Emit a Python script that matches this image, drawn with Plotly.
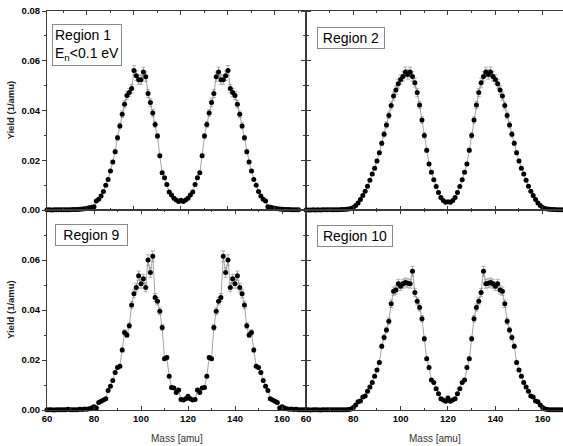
import plotly.graph_objects as go

mass = list(range(60, 171))

region1 = [
    0.0000, 0.0001, 0.0000, 0.0001, 0.0001, 0.0000, 0.0001, 0.0001, 0.0001, 0.0001,
    0.0001, 0.0001, 0.0001, 0.0001, 0.0002, 0.0002, 0.0002, 0.0003, 0.0004, 0.0005,
    0.0007, 0.0009, 0.0011, 0.0013, 0.0036, 0.0043, 0.0056, 0.0074, 0.0100, 0.0123,
    0.0157, 0.0193, 0.0234, 0.0290, 0.0338, 0.0385, 0.0425, 0.0460, 0.0472, 0.0488,
    0.0561, 0.0540, 0.0524, 0.0524, 0.0555, 0.0536, 0.0468, 0.0432, 0.0390, 0.0344,
    0.0297, 0.0218, 0.0150, 0.0130, 0.0103, 0.0072, 0.0060, 0.0047, 0.0040, 0.0034,
    0.0039, 0.0034, 0.0040, 0.0047, 0.0060, 0.0072, 0.0103, 0.0130, 0.0150, 0.0218,
    0.0297, 0.0344, 0.0390, 0.0432, 0.0468, 0.0536, 0.0555, 0.0524, 0.0524, 0.0540,
    0.0561, 0.0488, 0.0472, 0.0460, 0.0425, 0.0385, 0.0338, 0.0290, 0.0234, 0.0193,
    0.0157, 0.0123, 0.0100, 0.0074, 0.0056, 0.0043, 0.0036, 0.0013, 0.0011, 0.0009,
    0.0007, 0.0005, 0.0004, 0.0003, 0.0002, 0.0002, 0.0002, 0.0001, 0.0001, 0.0001,
    0.0001,
]

region2 = [
    0.0000, 0.0000, 0.0000, 0.0001, 0.0000, 0.0001, 0.0000, 0.0001, 0.0001, 0.0001,
    0.0001, 0.0001, 0.0001, 0.0001, 0.0001, 0.0002, 0.0002, 0.0003, 0.0004, 0.0006,
    0.0010, 0.0018, 0.0028, 0.0042, 0.0058, 0.0075, 0.0095, 0.0120, 0.0145, 0.0168,
    0.0197, 0.0230, 0.0268, 0.0305, 0.0342, 0.0380, 0.0420, 0.0458, 0.0482, 0.0508,
    0.0525, 0.0537, 0.0555, 0.0545, 0.0555, 0.0537, 0.0512, 0.0472, 0.0422, 0.0362,
    0.0300, 0.0240, 0.0185, 0.0152, 0.0122, 0.0094, 0.0070, 0.0050, 0.0038, 0.0031,
    0.0033, 0.0031, 0.0038, 0.0050, 0.0070, 0.0094, 0.0122, 0.0152, 0.0185, 0.0240,
    0.0300, 0.0362, 0.0422, 0.0472, 0.0512, 0.0537, 0.0555, 0.0545, 0.0555, 0.0537,
    0.0525, 0.0508, 0.0482, 0.0458, 0.0420, 0.0380, 0.0342, 0.0305, 0.0268, 0.0230,
    0.0197, 0.0168, 0.0145, 0.0120, 0.0095, 0.0075, 0.0058, 0.0042, 0.0028, 0.0018,
    0.0010, 0.0006, 0.0004, 0.0003, 0.0002, 0.0002, 0.0001, 0.0001, 0.0001, 0.0001,
    0.0001,
]

region9 = [
    0.0001, 0.0001, 0.0001, 0.0000, 0.0001, 0.0001, 0.0001, 0.0001, 0.0001, 0.0003,
    0.0001, 0.0001, 0.0001, 0.0001, 0.0003, 0.0002, 0.0004, 0.0003, 0.0005, 0.0008,
    0.0013, 0.0008, 0.0030, 0.0035, 0.0040, 0.0045, 0.0078, 0.0095, 0.0118, 0.0150,
    0.0170, 0.0175, 0.0240, 0.0310, 0.0300, 0.0337, 0.0420, 0.0465, 0.0490, 0.0537,
    0.0505, 0.0525, 0.0490, 0.0600, 0.0550, 0.0615, 0.0450, 0.0435, 0.0395, 0.0330,
    0.0205, 0.0210, 0.0135, 0.0090, 0.0088, 0.0070, 0.0080, 0.0042, 0.0040, 0.0045,
    0.0055, 0.0045, 0.0040, 0.0042, 0.0080, 0.0070, 0.0088, 0.0090, 0.0135, 0.0210,
    0.0205, 0.0330, 0.0395, 0.0435, 0.0450, 0.0615, 0.0550, 0.0600, 0.0490, 0.0525,
    0.0505, 0.0537, 0.0490, 0.0465, 0.0420, 0.0337, 0.0300, 0.0310, 0.0240, 0.0175,
    0.0170, 0.0150, 0.0118, 0.0095, 0.0078, 0.0045, 0.0040, 0.0035, 0.0030, 0.0008,
    0.0013, 0.0008, 0.0005, 0.0003, 0.0004, 0.0002, 0.0003, 0.0001, 0.0001, 0.0001,
    0.0001,
]

region10 = [
    0.0001, 0.0001, 0.0000, 0.0001, 0.0001, 0.0001, 0.0000, 0.0001, 0.0001, 0.0001,
    0.0001, 0.0001, 0.0001, 0.0001, 0.0001, 0.0001, 0.0001, 0.0001, 0.0002, 0.0004,
    0.0010, 0.0020, 0.0033, 0.0036, 0.0052, 0.0056, 0.0075, 0.0092, 0.0110, 0.0135,
    0.0160, 0.0190, 0.0255, 0.0290, 0.0320, 0.0355, 0.0425, 0.0475, 0.0480, 0.0505,
    0.0495, 0.0505, 0.0510, 0.0507, 0.0505, 0.0555, 0.0470, 0.0435, 0.0410, 0.0365,
    0.0285, 0.0205, 0.0170, 0.0120, 0.0110, 0.0085, 0.0065, 0.0045, 0.0040, 0.0035,
    0.0048, 0.0035, 0.0040, 0.0045, 0.0065, 0.0085, 0.0110, 0.0120, 0.0170, 0.0205,
    0.0285, 0.0365, 0.0410, 0.0435, 0.0470, 0.0555, 0.0505, 0.0507, 0.0510, 0.0505,
    0.0495, 0.0505, 0.0480, 0.0475, 0.0425, 0.0355, 0.0320, 0.0290, 0.0255, 0.0190,
    0.0160, 0.0135, 0.0110, 0.0092, 0.0075, 0.0056, 0.0052, 0.0036, 0.0033, 0.0020,
    0.0010, 0.0004, 0.0002, 0.0001, 0.0001, 0.0001, 0.0001, 0.0001, 0.0001, 0.0001,
    0.0001,
]

panel_labels = ["Region 1<br>E<sub>n</sub>&lt;0.1 eV", "Region 2", "Region 9", "Region 10"]
x_ticks = [60, 80, 100, 120, 140, 160]
y_ticks_top = [0.0, 0.02, 0.04, 0.06, 0.08]
y_ticks_bottom = [0.0, 0.02, 0.04, 0.06]
y_title = "Yield (1/amu)"
x_title = "Mass [amu]"

W, H = 563, 446
L, R, T, B = 47, 0, 11, 36
pw, ph = W - L - R, H - T - B
xs = (306 - L) / pw
ys = (410 - 210) / ph

FONT = "Liberation Sans, Arial, sans-serif"
AX = "#3a3a3a"

fig = go.Figure()

series = [region1, region2, region9, region10]
for i, vals in enumerate(series):
    k = "" if i == 0 else str(i + 1)
    fig.add_trace(go.Scatter(
        x=mass, y=vals, xaxis="x" + k, yaxis="y" + k,
        mode="lines+markers",
        line=dict(color="#8c8c8c", width=0.8),
        marker=dict(color="black", size=5, symbol="circle"),
        error_y=dict(type="percent", value=3.5, color="#9a9a9a", thickness=0.8, width=2),
        cliponaxis=False, showlegend=False,
    ))

xdom = [[0, xs], [xs, 1], [0, xs], [xs, 1]]
ydom = [[ys, 1], [ys, 1], [0, ys], [0, ys]]
# the top-left panel's mass axis is offset by about 3 amu in the reference
xr = [[63, 173.2], [60, 168.6], [60, 170.2], [60, 168.6]]

for i in range(4):
    k = "" if i == 0 else str(i + 1)
    bottom = i >= 2
    left = i % 2 == 0
    fig.update_layout(**{
        "xaxis" + k: dict(
            domain=xdom[i], range=xr[i], anchor="y" + k, automargin=False,
            tickvals=x_ticks, ticks="inside", ticklen=4, tickwidth=1, tickcolor=AX,
            minor=dict(dtick=10, tick0=60, ticks="inside", ticklen=2, tickcolor=AX),
            showline=True, linecolor=AX, linewidth=1, mirror="allticks",
            showgrid=False, zeroline=False,
            showticklabels=bottom,
            tickfont=dict(family=FONT, size=9.5, color="black", weight="bold"),
        ),
        "yaxis" + k: dict(
            domain=ydom[i], range=[0, 0.08], anchor="x" + k, automargin=False,
            tickvals=y_ticks_bottom if bottom else y_ticks_top, tickformat=".2f",
            ticks="outside", ticklen=4, tickwidth=1, tickcolor=AX,
            minor=dict(dtick=0.01, ticks="outside", ticklen=2, tickcolor=AX),
            showline=True, linecolor=AX, linewidth=1, mirror="allticks",
            showgrid=False, zeroline=False,
            showticklabels=left,
            tickfont=dict(family=FONT, size=9.5, color="black", weight="bold"),
        ),
    })

ann = []
box_pos = [(52, 24), (317, 27), (55, 224), (317, 225)]
box_w = [None, 62, 67, 70]
for i, (bx, by) in enumerate(box_pos):
    a = dict(
        text=panel_labels[i], xref="paper", yref="paper",
        x=(bx - L) / pw, y=(H - B - by) / ph, xanchor="left", yanchor="top",
        showarrow=False, align="left",
        font=dict(family=FONT, size=14, color="black"),
        bordercolor="#8a8a8a", borderwidth=1, borderpad=2, bgcolor="white",
    )
    if box_w[i]:
        a["width"] = box_w[i]
        a["align"] = "center"
    ann.append(a)

for yc in [(11 + 210) / 2, (210 + 410) / 2]:
    ann.append(dict(
        text=y_title, xref="paper", yref="paper",
        x=(10 - L) / pw, y=(H - B - yc) / ph, xanchor="center", yanchor="middle",
        textangle=-90, showarrow=False,
        font=dict(family=FONT, size=9.5, color="#222", weight="bold"),
    ))
for xc in [(47 + 306) / 2, (306 + 563) / 2]:
    ann.append(dict(
        text=x_title, xref="paper", yref="paper",
        x=(xc - L) / pw, y=(H - B - 438) / ph, xanchor="center", yanchor="middle",
        showarrow=False,
        font=dict(family=FONT, size=10, color="#333"),
    ))

fig.update_layout(
    template="none",
    width=W, height=H,
    margin=dict(l=L, r=R, t=T, b=B, autoexpand=False),
    paper_bgcolor="white", plot_bgcolor="white",
    annotations=ann,
    font=dict(family=FONT),
)

fig.write_html(
    "out.html",
    config={"displayModeBar": False},
    post_script="document.body.style.margin='0';document.body.style.overflow='hidden';",
)
